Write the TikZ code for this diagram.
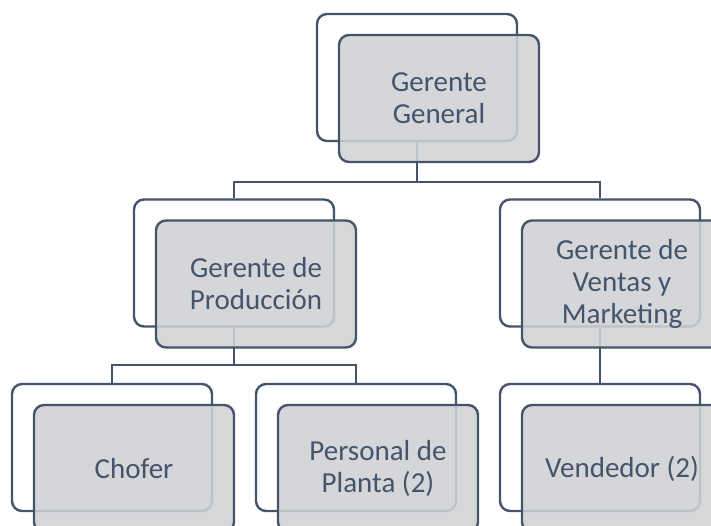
\documentclass[tikz,border=0pt]{standalone}
\usepackage{fontspec}
\setmainfont{Carlito}
\definecolor{slate}{HTML}{44546A}
\definecolor{boxgray}{HTML}{D0D1D4}

\begin{document}
\begin{tikzpicture}[x=1pt,y=-1pt,
  backbox/.style={draw=slate,line width=2.4pt,fill=white,rounded corners=10pt,
    minimum width=200pt,minimum height=127pt,inner sep=0pt},
  frontbox/.style={draw=slate,line width=2.4pt,fill=boxgray,fill opacity=.88,
    text opacity=1,rounded corners=10pt,minimum width=200pt,minimum height=127pt,
    inner sep=0pt,align=center,text=slate,font=\fontsize{29}{32}\selectfont},
  link/.style={draw=slate,line width=2.4pt}]
  \useasboundingbox (0,0) rectangle (711,526);
  \clip (0,0) rectangle (711,526);

  % back boxes
  \foreach \nm/\x/\y in {gg/417/77.5,gp/234/263,gv/600/263,ch/112/447.5,pp/356/447.5,ve/600/447.5} {
    \node[backbox] (\nm) at (\x,\y) {};
  }

  % connectors
  \coordinate (bus1) at (417,182);
  \coordinate (bus2) at (234,365);
  \draw[link] (gg.south) -- (bus1) -| (gp.north);
  \draw[link] (bus1) -| (gv.north);
  \draw[link] (gp.south) -- (bus2) -| (ch.north);
  \draw[link] (bus2) -| (pp.north);
  \draw[link] (gv.south) -- (ve.north);

  % front boxes with the names
  \foreach \nm/\txt in {gg/{Gerente\\General},gp/{Gerente de\\Producción},
      gv/{Gerente de\\Ventas y\\Marketing},ch/{Chofer},pp/{Personal de\\Planta (2)},
      ve/{Vendedor (2)}} {
    \node[frontbox] (\nm f) at ([shift={(22,21)}]\nm.center) {\txt};
  }
\end{tikzpicture}
\end{document}
